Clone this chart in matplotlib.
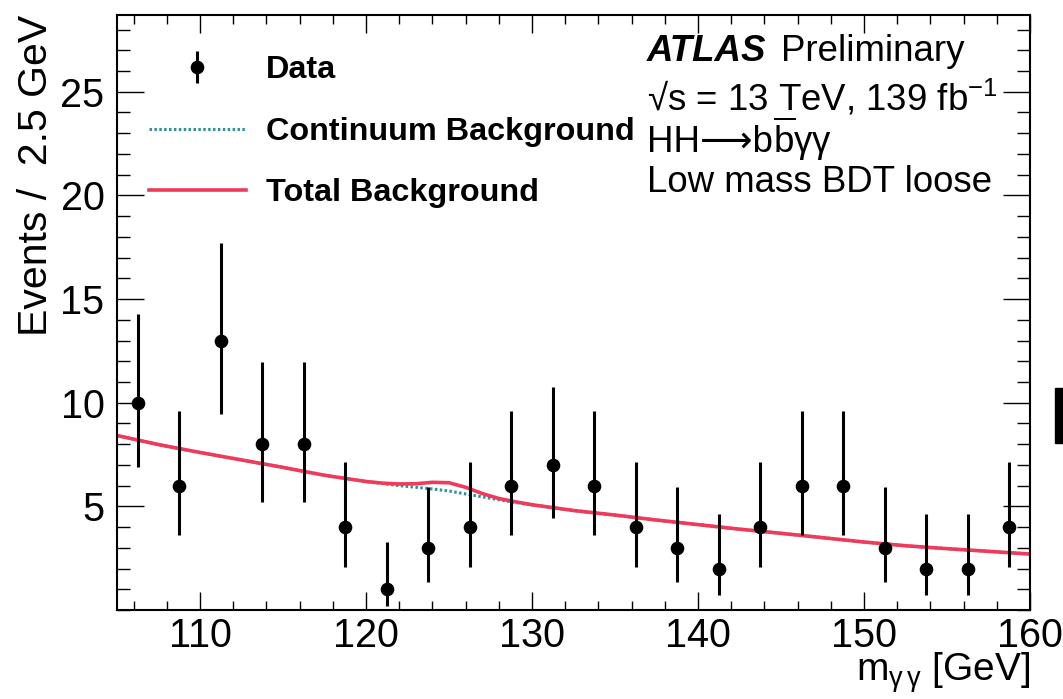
"""ATLAS-style m_yy spectrum: data with Poisson errors, continuum and total background."""

import matplotlib

matplotlib.use("Agg")
import matplotlib.pyplot as plt
from matplotlib.patches import Rectangle
from matplotlib.ticker import MultipleLocator

plt.rcParams["font.family"] = ["Liberation Sans", "DejaVu Sans"]
plt.rcParams["mathtext.fontset"] = "custom"
plt.rcParams["mathtext.rm"] = "Liberation Sans"
plt.rcParams["mathtext.it"] = "Liberation Sans:italic"
plt.rcParams["mathtext.bf"] = "Liberation Sans:bold"

# -- Data (2.5 GeV bins) ----------------------------------------------------
bin_centers = [106.25, 108.75, 111.25, 113.75, 116.25, 118.75, 121.25, 123.75,
               126.25, 128.75, 131.25, 133.75, 136.25, 138.75, 141.25, 143.75,
               146.25, 148.75, 151.25, 153.75, 156.25, 158.75]
counts = [10, 6, 13, 8, 8, 4, 1, 3, 4, 6, 7, 6, 4, 3, 2, 4, 6, 6, 3, 2, 2, 4]
err_low = [3.11, 2.38, 3.56, 2.77, 2.77, 1.91, 0.83, 1.63, 1.91, 2.38, 2.58,
           2.38, 1.91, 1.63, 1.29, 1.91, 2.38, 2.38, 1.63, 1.29, 1.29, 1.91]
err_high = [4.27, 3.58, 4.70, 3.94, 3.94, 3.16, 2.30, 2.92, 3.16, 3.58, 3.77,
            3.58, 3.16, 2.92, 2.64, 3.16, 3.58, 3.58, 2.92, 2.64, 2.64, 3.16]

# -- Background curves ------------------------------------------------------
curve_x = [105, 107.5, 110, 112.5, 115, 117.5, 119, 120, 121, 122, 123, 124,
           125, 126, 127, 128, 129, 130, 132.5, 135, 137.5, 140, 142.5, 145,
           147.5, 150, 152.5, 155, 157.5, 160]
continuum_y = [8.42, 7.98, 7.60, 7.24, 6.88, 6.50, 6.32, 6.20, 6.10, 6.00, 5.92,
               5.84, 5.74, 5.60, 5.46, 5.32, 5.19, 5.07, 4.80, 4.58, 4.34, 4.12,
               3.90, 3.70, 3.49, 3.28, 3.10, 2.96, 2.83, 2.70]
total_y = [8.42, 7.98, 7.60, 7.24, 6.88, 6.50, 6.32, 6.20, 6.12, 6.08, 6.09,
           6.16, 6.14, 5.92, 5.62, 5.38, 5.22, 5.08, 4.80, 4.58, 4.34, 4.12,
           3.90, 3.70, 3.49, 3.28, 3.10, 2.96, 2.83, 2.70]

# -- Figure -----------------------------------------------------------------
fig = plt.figure(figsize=(10.63, 6.99), dpi=100)
ax = fig.add_axes([0.110, 0.1273, 0.859, 0.8512])

cont_line, = ax.plot(curve_x, continuum_y, color="#2f9196", lw=2.2,
                     linestyle=(0, (0.8, 0.8)), label="Continuum Background")
tot_line, = ax.plot(curve_x, total_y, color="#f03a5c", lw=2.6,
                    label="Total Background")
data_h = ax.errorbar(bin_centers, counts, yerr=[err_low, err_high], fmt="o",
                     color="black", ms=8.8, elinewidth=2.2, capsize=0,
                     label="Data", zorder=5)

ax.set_xlim(105, 160)
ax.set_ylim(0, 28.7)

ax.xaxis.set_major_locator(MultipleLocator(10))
ax.xaxis.set_minor_locator(MultipleLocator(2))
ax.yaxis.set_major_locator(MultipleLocator(5))
ax.yaxis.set_minor_locator(MultipleLocator(1))
ax.set_yticks([5, 10, 15, 20, 25])

ax.tick_params(axis="both", which="both", direction="in", top=True, right=True,
               labelsize=28.5, width=1.0, colors="black")
ax.tick_params(axis="y", which="major", length=19.5, pad=9)
ax.tick_params(axis="y", which="minor", length=9.5)
ax.tick_params(axis="x", which="major", length=13, pad=5)
ax.tick_params(axis="x", which="minor", length=6.5)
for sp in ax.spines.values():
    sp.set_linewidth(1.5)

ax.set_xlabel(r"m$_{\mathrm{\gamma\,\gamma}}$ [GeV]", fontsize=28, loc="right",
              labelpad=-3.5)
ax.set_ylabel("Events /  2.5 GeV", fontsize=29.5, loc="top", labelpad=4)

# -- Legend -----------------------------------------------------------------
ax.legend(handles=[data_h, cont_line, tot_line], loc="upper left",
          bbox_to_anchor=(0.003, 0.981), frameon=False,
          prop={"weight": "bold", "size": 23.3}, handlelength=3.0,
          handletextpad=0.62, labelspacing=0.97)

# -- Labels -----------------------------------------------------------------
tx = 0.5805
ax.text(tx, 0.938, "ATLAS", transform=ax.transAxes, fontsize=26.4,
        va="center", weight="bold", style="italic")
ax.text(0.727, 0.938, "Preliminary", transform=ax.transAxes, fontsize=26.4,
        va="center")
ax.text(tx, 0.860, r"√s = 13 TeV, 139 fb$^{\mathrm{-1}}$", transform=ax.transAxes,
        fontsize=26.4, va="center")
hh = ax.text(tx, 0.785, "HH⟶b", transform=ax.transAxes, fontsize=26.4,
             va="center", family=["Liberation Sans", "DejaVu Sans"])
ax.annotate(r"$\overline{\mathrm{b}}$γγ", xy=(1, 0), xycoords=hh,
            xytext=(0, -1.5), textcoords="offset points", fontsize=26.4,
            va="bottom", ha="left")
ax.text(tx, 0.718, "Low mass BDT loose", transform=ax.transAxes,
        fontsize=26.4, va="center")

# stray black bar at the right edge of the original image
fig.patches.append(Rectangle((1055 / 1063, 1 - 443 / 699), 8 / 1063, 55 / 699,
                             transform=fig.transFigure, color="black"))

fig.savefig("out.png", dpi=100)
plt.close(fig)
